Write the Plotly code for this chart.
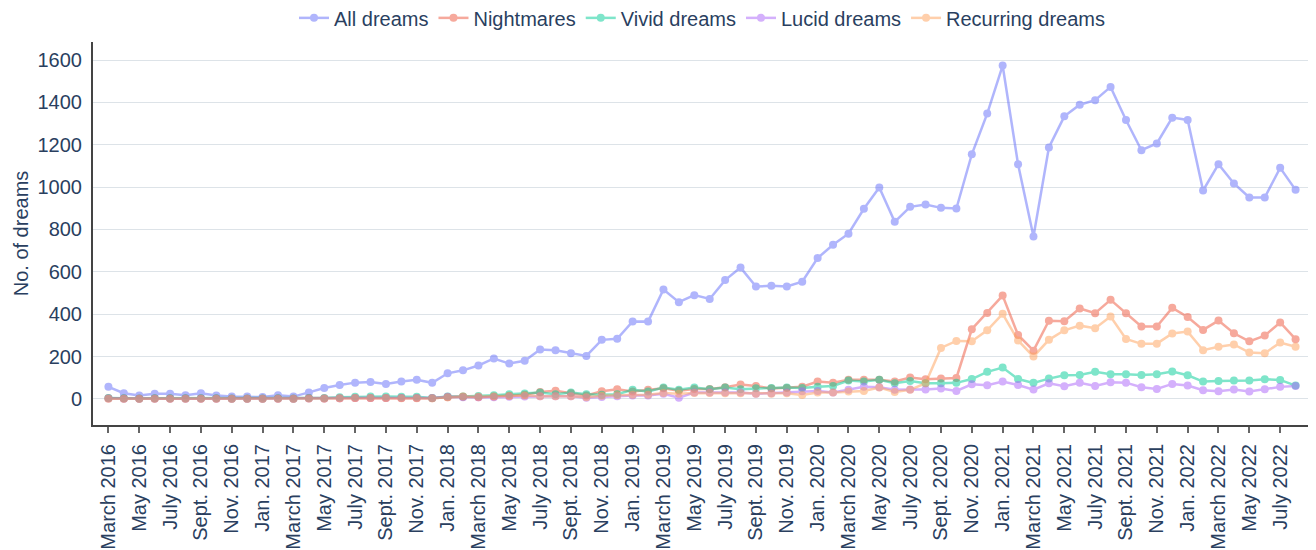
import plotly.graph_objects as go

month_names = ["Jan.", "Feb.", "March", "April", "May", "June", "July", "Aug.", "Sept.", "Oct.", "Nov.", "Dec."]
months = []
y, m = 2016, 2
for _ in range(78):
    months.append(f"{month_names[m]} {y}")
    m += 1
    if m == 12:
        m = 0
        y += 1

all_dreams = [57, 27, 16, 25, 25, 17, 27, 16, 11, 11, 9, 17, 11, 31, 52, 66, 77, 80, 71, 82, 91, 76, 121, 135, 158, 191, 167, 180, 233, 230, 216, 203, 279, 284,
              366, 365, 517, 457, 490, 472, 561, 620, 531, 534, 531, 553, 665, 728, 780, 898,
              998, 836, 907, 918, 902, 899, 1155, 1347, 1574, 1108, 767, 1187, 1334, 1389, 1410, 1473, 1317, 1174, 1206, 1328, 1317, 984, 1108, 1017, 951, 951, 1091, 987]
nightmares = [3, 2, 1, 2, 2, 2, 2, 2, 1, 1, 1, 2, 1, 3, 2, 3, 4, 5, 5, 4, 4, 3, 8, 10, 8, 12, 15, 20,
              33, 39, 27, 16, 36, 46, 35, 43, 50, 39, 47, 47, 55, 68, 61, 49, 52, 58, 82, 77, 91, 91,
              91, 82, 101, 93, 96, 99, 329, 406, 488, 302, 228, 369, 367, 427, 405, 468, 405, 342, 342, 430, 387, 326, 370, 310, 272, 299, 361, 282]
vivid = [5, 3, 2, 3, 3, 3, 3, 3, 2, 2, 2, 3, 2, 5, 5, 8, 10, 12, 12, 10, 10, 5, 12, 12, 14, 18, 22, 26,
         30, 22, 30, 22, 20, 22, 43, 35, 54, 43, 54, 46, 54, 46, 50, 52, 54, 52, 58, 61, 87, 82,
         91, 74, 85, 74, 74, 76, 94, 128, 148, 94, 76, 96, 112, 113, 128, 117, 117, 113, 117, 129, 112, 82, 85, 87, 87, 93, 90, 63]
lucid = [2, 1, 1, 1, 1, 1, 1, 1, 1, 1, 1, 1, 1, 2, 2, 3, 4, 5, 5, 4, 4, 5, 10, 8, 8, 8, 10, 12,
         13, 13, 13, 6, 9, 13, 16, 16, 24, 6, 30, 30, 30, 30, 24, 27, 31, 36, 38, 31, 43, 57,
         55, 43, 44, 44, 49, 38, 69, 65, 82, 66, 44, 74, 60, 76, 61, 79, 77, 55, 47, 71, 63, 41, 36, 44, 35, 46, 57, 61]
recurring = [1, 1, 1, 1, 1, 1, 1, 1, 1, 1, 1, 1, 1, 2, 2, 3, 4, 4, 4, 3, 3, 3, 8, 12, 10, 12, 14, 16,
             13, 13, 13, 8, 15, 18, 20, 20, 28, 25, 28, 28, 27, 27, 25, 25, 27, 19, 30, 31, 35, 38,
             54, 33, 43, 74, 241, 274, 272, 324, 402, 276, 200, 279, 324, 346, 334, 389, 283, 260, 261, 309, 318, 230, 246, 257, 219, 216, 266, 246]

series_names = ["All dreams", "Nightmares", "Vivid dreams", "Lucid dreams", "Recurring dreams"]
series_values = [all_dreams, nightmares, vivid, lucid, recurring]
colors = ["#636efa", "#EF553B", "#00cc96", "#ab63fa", "#FFA15A"]

tick_labels = months[::2]

fig = go.Figure()
for name, vals, col in zip(series_names, series_values, colors):
    fig.add_trace(go.Scatter(
        x=months, y=vals, name=name, mode="lines+markers",
        line=dict(color=col, width=2.5), marker=dict(color=col, size=8),
        opacity=0.5,
    ))

fig.update_layout(
    template="plotly_white",
    width=1316, height=550,
    margin=dict(l=85, r=13, t=34, b=133, autoexpand=False),
    font=dict(family="Arial", size=18, color="#2a3f5f"),
    legend=dict(orientation="h", x=0.5, xanchor="center", y=1.063, yanchor="middle",
                font=dict(size=20)),
    xaxis=dict(
        type="category", categoryorder="array", categoryarray=months,
        tickmode="array", tickvals=tick_labels, ticktext=tick_labels,
        tickangle=-90, range=[-1, 78], showgrid=False,
        showline=True, linecolor="#444", linewidth=2,
        ticks="outside", tickcolor="#666", ticklen=6, tickwidth=1.5,
        tickfont=dict(size=20), ticklabelstandoff=3, automargin=False,
    ),
    yaxis=dict(
        title=dict(text="No. of dreams", font=dict(size=20), standoff=4),
        range=[-123, 1685], dtick=200, tick0=0,
        showline=True, linecolor="#444", linewidth=2,
        gridcolor="#dde3e8", zeroline=False,
        tickfont=dict(size=20), ticklabelstandoff=5, automargin=False,
    ),
)

fig.write_html("out.html")
